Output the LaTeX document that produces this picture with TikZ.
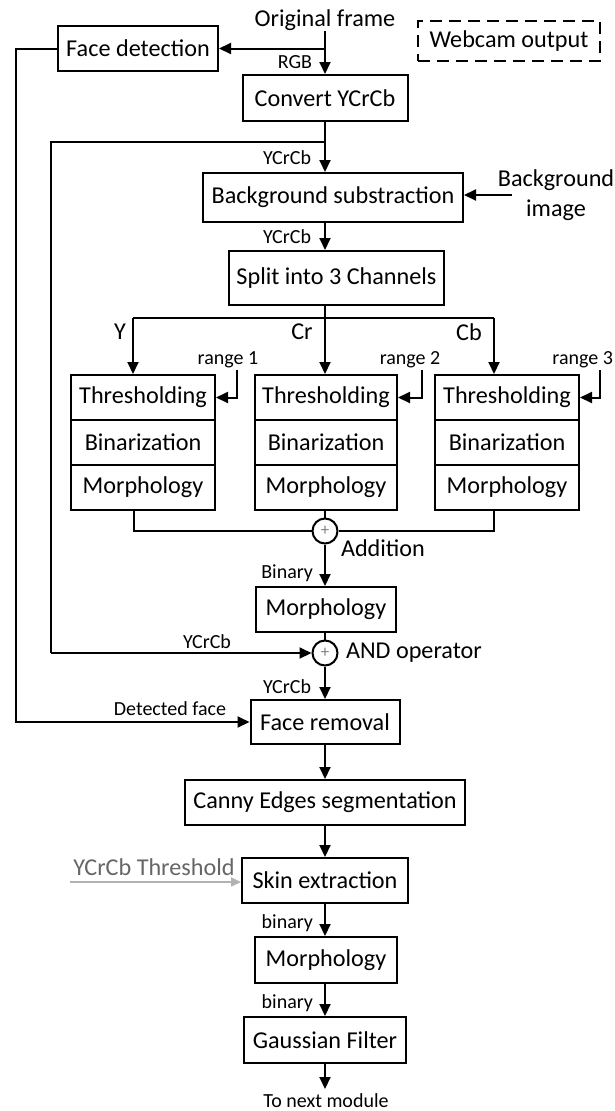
\documentclass[tikz,border=0pt]{standalone}
\usepackage{fontspec}
\setmainfont{Carlito}
\usetikzlibrary{arrows.meta,calc}
\begin{document}
\begin{tikzpicture}[x=1pt,y=-1pt,
  line width=2pt,
  arr/.style={-{Triangle[length=12pt,width=11pt]}},
  box/.style={draw,line width=2pt,minimum height=45pt,inner sep=0pt,font=\fontsize{24.2}{28}\selectfont},
  cell/.style={box,minimum width=144pt},
  big/.style={font=\fontsize{24.2}{30}\selectfont,inner sep=0pt},
  small/.style={font=\fontsize{20}{23}\selectfont,inner sep=0pt},
  op/.style={draw,circle,minimum size=25pt,inner sep=0pt,line width=2pt}]
\useasboundingbox (0,0) rectangle (615,1111);
% nodes
\node[big] (orig) at (325,20) {Original frame};
\node[box,minimum width=160pt] (facedet) at (138,48.5) {Face detection};
\node[box,dash pattern=on 12pt off 7pt,minimum width=182pt,minimum height=40pt] (webcam) at (509,41) {Webcam output};
\node[box,minimum width=165pt,minimum height=46pt] (convert) at (325,98) {Convert YCrCb};
\node[box,minimum width=260pt,minimum height=49pt] (bgsub) at (333,197.5) {Background substraction};
\node[big,align=center] (bgimg) at (556,195) {Background\\image};
\node[box,minimum width=215pt,minimum height=54pt] (split) at (336.5,278) {Split into 3 Channels};
% channel stacks
\node[cell] (thrA) at (143,397.5) {Thresholding};
\node[cell] (binA) at (143,442.5) {Binarization};
\node[cell] (morA) at (143,487.5) {Morphology};
\node[cell,minimum width=142pt] (thrB) at (326,397.5) {Thresholding};
\node[cell,minimum width=142pt] (binB) at (326,442.5) {Binarization};
\node[cell,minimum width=142pt] (morB) at (326,487.5) {Morphology};
\node[cell] (thrC) at (507,397.5) {Thresholding};
\node[cell] (binC) at (507,442.5) {Binarization};
\node[cell] (morC) at (507,487.5) {Morphology};
\node[op] (add) at (325,531) {\textcolor{gray}{\fontsize{17}{17}\selectfont +}};
\node[box,minimum width=140pt] (morph) at (326,609.5) {Morphology};
\node[op] (and) at (325,653) {\textcolor{gray}{\fontsize{17}{17}\selectfont +}};
\node[box,minimum width=149pt,minimum height=44pt] (faceRem) at (325,722) {Face removal};
\node[box,minimum width=280pt] (canny) at (325,802.5) {Canny Edges segmentation};
\node[box,minimum width=166pt] (skin) at (325,880.5) {Skin extraction};
\node[box,minimum width=142pt,minimum height=46pt] (morph2) at (326,960) {Morphology};
\node[box,minimum width=162pt,minimum height=46pt] (gauss) at (325,1040) {Gaussian Filter};
\node[small,anchor=north] (next) at (326,1093) {To next module};
% labels
\node[small,anchor=east] (lrgb) at (313,62) {RGB};
\node[small,anchor=east] (ly1) at (312,158) {YCrCb};
\node[small,anchor=east] (ly2) at (312,237) {YCrCb};
\node[big] (lY) at (120,332) {Y};
\node[big] (lCr) at (302,332) {Cr};
\node[big] (lCb) at (469,332) {Cb};
\node[small] (r1) at (228,360) {range 1};
\node[small] (r2) at (410,360) {range 2};
\node[small,anchor=east] (r3) at (614,360) {range 3};
\node[big,anchor=west] (ladd) at (340,548) {Addition};
\node[small,anchor=east] (lbin) at (314,573) {Binary};
\node[small] (ly3) at (207,642) {YCrCb};
\node[big,anchor=west] (land) at (345,653) {AND operator};
\node[small,anchor=east] (ly4) at (312,687) {YCrCb};
\node[small] (ldf) at (170,709) {Detected face};
\node[big,text=gray!80!black] (lthr) at (154,867) {YCrCb Threshold};
\node[small,anchor=east] (lb1) at (314,923) {binary};
\node[small,anchor=east] (lb2) at (314,1003) {binary};
% coordinates
\coordinate (fdj) at (325,48.5);
\coordinate (L1) at (16,48.5);
\coordinate (L1b) at (16,722);
\coordinate (cj) at (325,142);
\coordinate (L2) at (51,142);
\coordinate (L2b) at (51,653);
\coordinate (bgarr) at (512,195);
\coordinate (br) at (325,318);
\coordinate (brL) at (133,318);
\coordinate (brR) at (494,318);
\coordinate (rA) at (237,370);
\coordinate (rB) at (422,370);
\coordinate (rC) at (600,370);
\coordinate (aL) at (134,531);
\coordinate (aR) at (494,531);
\coordinate (thr) at (70,882);
% connectors
\draw[arr] (orig.south) -- (convert.north);
\draw[arr] (fdj) -- (facedet.east);
\draw[arr] (facedet.west) -- (L1) -- (L1b) -- (faceRem.west);
\draw[arr] (convert.south) -- (bgsub.north -| convert.south);
\draw (cj) -- (L2) -- (L2b);
\draw[arr] (L2b) -- (and.west);
\draw[arr] (bgarr) -- (bgsub.east |- bgarr);
\draw[arr] (bgsub.south -| convert.south) -- (split.north -| convert.south);
\draw (split.south -| br) -- (br);
\draw (brL) -- (brR);
\draw[arr] (brL) -- (brL |- thrA.north);
\draw[arr] (br) -- (br |- thrB.north);
\draw[arr] (brR) -- (brR |- thrC.north);
\draw[arr] (rA) -- (rA |- thrA.east) -- (thrA.east);
\draw[arr] (rB) -- (rB |- thrB.east) -- (thrB.east);
\draw[arr] (rC) -- (rC |- thrC.east) -- (thrC.east);
\draw (morA.south -| aL) -- (aL) -- (add.west);
\draw (morC.south -| aR) -- (aR) -- (add.east);
\draw (morB.south -| add.north) -- (add.north);
\draw[arr] (add.south) -- (morph.north -| add.south);
\draw (morph.south -| and.north) -- (and.north);
\draw[arr] (and.south) -- (faceRem.north -| and.south);
\draw[arr] (faceRem.south) -- (canny.north);
\draw[arr] (canny.south) -- (skin.north);
\draw[-{Triangle[length=10pt,width=9pt]},gray!60,line width=1.5pt] (thr) -- (skin.west |- thr);
\draw[arr] (skin.south) -- (morph2.north -| skin.south);
\draw[arr] (morph2.south -| gauss.north) -- (gauss.north);
\draw[arr,shorten >=4pt] (gauss.south) -- (next.north -| gauss.south);
\end{tikzpicture}
\end{document}
